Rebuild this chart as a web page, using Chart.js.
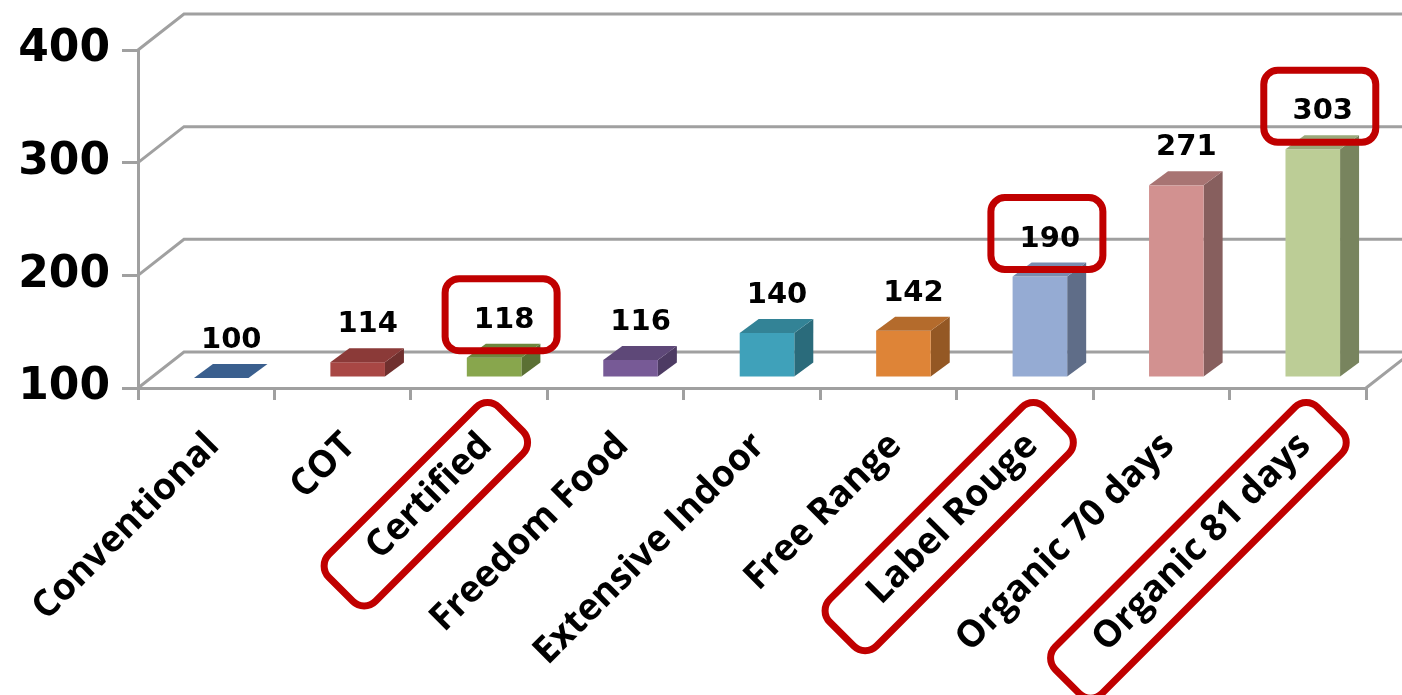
<!DOCTYPE html>
<html>
<head>
<meta charset="utf-8">
<script src="https://cdn.jsdelivr.net/npm/chart.js@4/dist/chart.umd.min.js"></script>
<style>
  html, body { margin: 0; padding: 0; background: #fff; }
  canvas { display: block; }
</style>
</head>
<body>
<canvas id="costChart" width="1402" height="695"></canvas>
<script>
// chart data
const categories = ['Conventional', 'COT', 'Certified', 'Freedom Food', 'Extensive Indoor',
                    'Free Range', 'Label Rouge', 'Organic 70 days', 'Organic 81 days'];
const costIndex = [100, 114, 118, 116, 140, 142, 190, 271, 303];
const yTicks = [100, 200, 300, 400];
const highlighted = [2, 6, 8]; // circled in red

// face colours per bar: front, top, side
const frontColors = ['#4a7ab5', '#a84744', '#88a64d', '#775a96', '#3fa1ba', '#de8437', '#95abd3', '#d29190', '#bccd96'];
const topColors   = ['#3a5f8e', '#8b3a38', '#6e873e', '#5e4878', '#338396', '#b46b2c', '#7a8db0', '#a87473', '#9aa97b'];
const sideColors  = ['#2f4f78', '#70302e', '#5b7034', '#4d3b63', '#2a6b7b', '#945824', '#5f6d88', '#875f5e', '#78845e'];

const GRID = '#a0a0a0';
const WALL = { dx: 46, dy: -36 };   // back wall offset
const BAR = { dx: 15, dy: -10 };    // bar front face offset into the depth
const DEPTH = { dx: 19, dy: -14 };  // bar depth
const RED = '#c00000';

const numFont = 'bold 29px "DejaVu Sans"';

// back wall grid + floor, 3d bars, value labels and red marks
const wallPlugin = {
    id: 'wall',
    beforeDatasetsDraw(chart) {
        const { ctx, chartArea, scales } = chart;
        ctx.save();
        ctx.strokeStyle = GRID;
        ctx.lineWidth = 3;
        ctx.beginPath();
        yTicks.forEach(v => {
            const py = scales.y.getPixelForValue(v);
            ctx.moveTo(chartArea.left, py);
            ctx.lineTo(chartArea.left + WALL.dx, py + WALL.dy);
            ctx.lineTo(chart.width, py + WALL.dy);
        });
        // right edge of the floor
        ctx.moveTo(chartArea.right, chartArea.bottom);
        ctx.lineTo(chartArea.right + WALL.dx, chartArea.bottom + WALL.dy);
        ctx.stroke();
        ctx.restore();
    },
    beforeDatasetDraw() {
        return false; // bars are drawn as boxes below
    },
    afterDatasetsDraw(chart) {
        const { ctx } = chart;
        const meta = chart.getDatasetMeta(0);
        ctx.save();
        meta.data.forEach((bar, i) => {
            const { x, y, base, width } = bar.getProps(['x', 'y', 'base', 'width'], true);
            const l = x - width / 2 + BAR.dx, r = x + width / 2 + BAR.dx;
            const t = y + BAR.dy, b = base + BAR.dy;

            // side
            ctx.fillStyle = sideColors[i];
            ctx.beginPath();
            ctx.moveTo(r, t); ctx.lineTo(r + DEPTH.dx, t + DEPTH.dy);
            ctx.lineTo(r + DEPTH.dx, b + DEPTH.dy); ctx.lineTo(r, b);
            ctx.closePath(); ctx.fill();
            // front
            ctx.fillStyle = frontColors[i];
            ctx.fillRect(l, t, r - l, b - t);
            // top
            ctx.fillStyle = topColors[i];
            ctx.beginPath();
            ctx.moveTo(l, t); ctx.lineTo(r, t);
            ctx.lineTo(r + DEPTH.dx, t + DEPTH.dy); ctx.lineTo(l + DEPTH.dx, t + DEPTH.dy);
            ctx.closePath(); ctx.fill();

            // value label
            const lx = x + BAR.dx + 10;
            const ly = t + DEPTH.dy - 16;
            ctx.fillStyle = '#000';
            ctx.font = numFont;
            ctx.textAlign = 'center';
            ctx.textBaseline = 'alphabetic';
            ctx.fillText(String(costIndex[i]), lx, ly);

            if (highlighted.includes(i)) {
                const cx = lx - 3, cy = ly - 11 - 2;
                ctx.strokeStyle = RED;
                ctx.lineWidth = 7;
                ctx.beginPath();
                ctx.roundRect(cx - 56, cy - 36, 112, 72, 14);
                ctx.stroke();
            }
        });
        ctx.restore();
    },
    afterDraw(chart) {
        // red boxes round the highlighted category labels
        const { ctx } = chart;
        const items = chart.scales.x.getLabelItems();
        ctx.save();
        ctx.strokeStyle = RED;
        ctx.lineWidth = 7;
        highlighted.forEach(i => {
            const it = items[i];
            if (!it) return;
            const [tx, ty] = it.options.translation;
            const rot = it.options.rotation;
            ctx.font = it.font.string;
            const w = ctx.measureText(it.label).width;
            const lx = -w / 2 - 8, lyy = it.textOffset + 3;
            const cx = tx + Math.cos(rot) * lx - Math.sin(rot) * lyy;
            const cy = ty + Math.sin(rot) * lx + Math.cos(rot) * lyy;
            ctx.save();
            ctx.translate(cx, cy);
            ctx.rotate(rot);
            const L = w + 80, H = 66;
            ctx.beginPath();
            ctx.roundRect(-L / 2, -H / 2, L, H, 16);
            ctx.stroke();
            ctx.restore();
        });
        ctx.restore();
    }
};

new Chart(document.getElementById('costChart').getContext('2d'), {
    type: 'bar',
    data: {
        labels: categories,
        datasets: [{
            data: costIndex,
            base: 100,
            backgroundColor: frontColors,
            barPercentage: 0.4,
            categoryPercentage: 1.0
        }]
    },
    options: {
        responsive: false,
        animation: false,
        devicePixelRatio: 1,
        layout: { padding: { top: 50, right: 36, left: 0, bottom: 0 } },
        plugins: {
            legend: { display: false },
            tooltip: { enabled: false }
        },
        scales: {
            x: {
                grid: { offset: true, drawOnChartArea: false, tickLength: 12, color: GRID, lineWidth: 3 },
                border: { color: GRID, width: 3 },
                ticks: {
                    autoSkip: false,
                    minRotation: 45,
                    maxRotation: 45,
                    padding: 24,
                    labelOffset: 7,
                    color: '#000',
                    font: { family: '"Open Sans"', weight: 'bold', size: 37 }
                },
                afterFit(scale) {
                    scale.height = 307;
                    scale.paddingLeft = 0;
                    scale.paddingRight = 0;
                }
            },
            y: {
                min: 100,
                max: 400,
                afterBuildTicks(scale) { scale.ticks = yTicks.map(v => ({ value: v })); },
                grid: { drawOnChartArea: false, tickLength: 16, color: GRID, lineWidth: 3 },
                border: { color: GRID, width: 3 },
                ticks: {
                    padding: 12,
                    color: '#000',
                    font: { family: '"DejaVu Sans"', weight: 'bold', size: 44 }
                },
                afterFit(scale) { scale.width = 138; }
            }
        }
    },
    plugins: [wallPlugin]
});
</script>
</body>
</html>
